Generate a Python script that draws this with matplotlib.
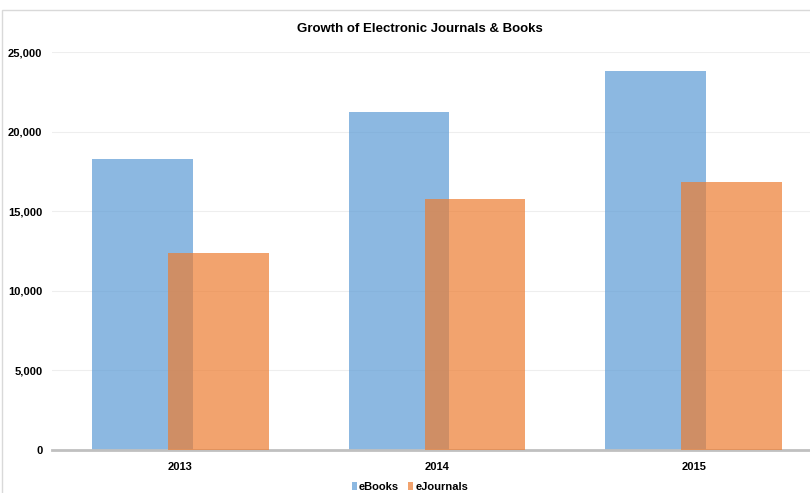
#!/usr/bin/env python3
"""Growth of electronic journals and books, 2013-2015."""

import numpy as np
import matplotlib
matplotlib.use("Agg")
import matplotlib.pyplot as plt
from matplotlib.patches import Patch, Rectangle
from matplotlib.ticker import FuncFormatter

years = ["2013", "2014", "2015"]
ebooks = [18300, 21200, 23800]
ejournals = [12400, 15750, 16850]

plt.rcParams["font.family"] = ["Liberation Sans", "DejaVu Sans"]
plt.rcParams["font.weight"] = "bold"

BLUE = "#5B9BD5"
ORANGE = "#ED7D31"


def main():
    fig = plt.figure(figsize=(8.1, 4.93), dpi=100)
    fig.patch.set_facecolor("white")

    # light border around the chart area (runs off the bottom/right edges)
    fig.patches.append(Rectangle((2 / 810, -0.1), 1.2, 1.1 - 10 / 493,
                                 transform=fig.transFigure, fill=False,
                                 edgecolor="#d9d9d9", linewidth=1.0))

    ax = fig.add_axes([52 / 810, 43 / 493, 770 / 810, 398 / 493])

    x = np.arange(len(years))
    width = 0.393
    offset = 0.148
    ax.bar(x - offset, ebooks, width, color=BLUE, alpha=0.7, zorder=2)
    ax.bar(x + offset, ejournals, width, color=ORANGE, alpha=0.7, zorder=3)

    ax.set_xlim(-0.5, len(years) - 0.5)
    ax.set_ylim(0, 25000)
    ax.set_yticks(np.arange(0, 25001, 5000))
    ax.yaxis.set_major_formatter(FuncFormatter(lambda v, p: f"{v:,.0f}"))
    ax.set_xticks(x)
    ax.set_xticklabels(years)

    ax.grid(axis="y", color="#eeeeee", linewidth=0.8, zorder=0)
    ax.set_axisbelow(True)
    for side in ["top", "right", "left"]:
        ax.spines[side].set_visible(False)
    ax.spines["bottom"].set_color("#c0c0c0")
    ax.spines["bottom"].set_linewidth(2)

    ax.tick_params(axis="both", length=0, labelsize=8)
    ax.tick_params(axis="x", pad=9)
    ax.tick_params(axis="y", pad=7)

    fig.text(420 / 810, 1 - 29 / 493, "Growth of Electronic Journals & Books",
             ha="center", va="center", fontsize=9.5, fontweight="bold")

    handles = [Patch(facecolor=BLUE, alpha=0.7, label="eBooks"),
               Patch(facecolor=ORANGE, alpha=0.7, label="eJournals")]
    fig.legend(handles=handles, loc="center", bbox_to_anchor=(410 / 810, 1 - 487 / 493),
               ncol=2, frameon=False, fontsize=8, handlelength=0.45, handleheight=0.8,
               handletextpad=0.2, columnspacing=0.8)

    plt.savefig("out.png", dpi=100)
    plt.close()


if __name__ == "__main__":
    main()
